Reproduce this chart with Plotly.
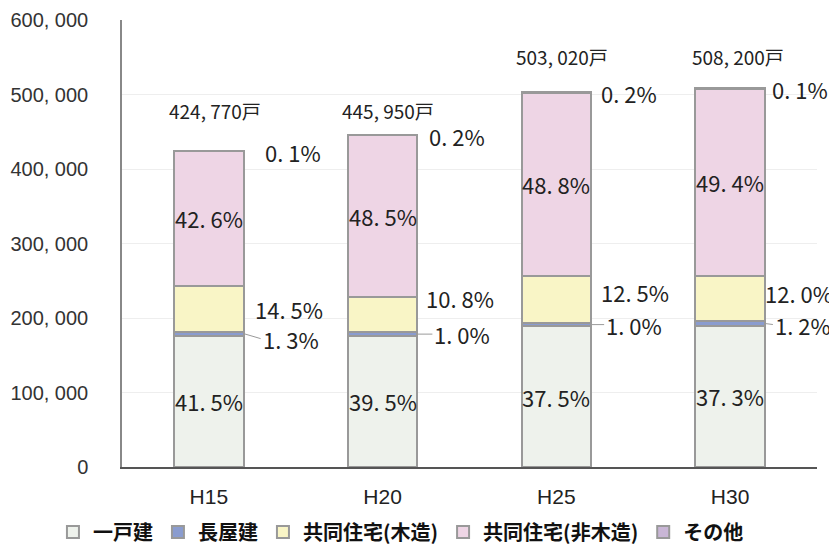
import plotly.graph_objects as go

# ---- data ----
categories = ["H15", "H20", "H25", "H30"]
totals = [424770, 445950, 503020, 508200]
total_labels = ["424, 770戸", "445, 950戸", "503, 020戸", "508, 200戸"]
series_names = ["一戸建", "長屋建", "共同住宅(木造)", "共同住宅(非木造)", "その他"]
pct_detached = [41.5, 39.5, 37.5, 37.3]
pct_row = [1.3, 1.0, 1.0, 1.2]
pct_wood = [14.5, 10.8, 12.5, 12.0]
pct_nonwood = [42.6, 48.5, 48.8, 49.4]
pct_other = [0.1, 0.2, 0.2, 0.1]
y_tick_values = [0, 100000, 200000, 300000, 400000, 500000, 600000]
y_tick_labels = ["0", "100, 000", "200, 000", "300, 000", "400, 000", "500, 000", "600, 000"]

# ---- styles ----
colors = ["#eef2ec", "#8a9ccf", "#f9f5c6", "#eed5e5", "#c9b6d6"]
BAR_W = 0.40
LBL_FONT = dict(family="Noto Sans CJK JP", size=22, color="#222222")

pcts = [pct_detached, pct_row, pct_wood, pct_nonwood, pct_other]
xs = list(range(len(categories)))

fig = go.Figure()
for name, p, c in zip(series_names, pcts, colors):
    vals = [t * v / 100.0 for t, v in zip(totals, p)]
    fig.add_trace(go.Bar(
        x=xs, y=vals, name=name, width=BAR_W,
        marker=dict(color=c, line=dict(color="#999999", width=2)),
        hoverinfo="skip",
    ))

def fmt(v):
    s = f"{v:.1f}%"
    return s.replace(".", ". ")

ann = []
cum = []
for i in xs:
    acc = 0
    row = []
    for p in pcts:
        v = totals[i] * p[i] / 100.0
        row.append((acc, acc + v))
        acc += v
    cum.append(row)

# layout offsets (pixels)
total_dx = [6, 5, 6, 8]
total_dy = [40, 24, 36, 32]
other_dx = [19, 10, 8, 5]
wood_dx = [9, 7, 8, -2]
wood_dy = [0, 17, 7, 6]
row_dx = [17, 15, 13, 8]
row_dy = [-5, 0, 0, -1]

for i in xs:
    edge = i + BAR_W / 2
    ann.append(dict(x=i, y=totals[i], text=total_labels[i], showarrow=False,
                    xanchor="center", yanchor="middle", xshift=total_dx[i], yshift=total_dy[i],
                    font=dict(family="Noto Sans CJK JP", size=19, color="#222222")))
    for k in (0, 3):
        lo, hi = cum[i][k]
        ann.append(dict(x=i, y=(lo + hi) / 2, text=fmt(pcts[k][i]), showarrow=False,
                        xanchor="center", yanchor="middle", font=LBL_FONT))
    ann.append(dict(x=edge, y=totals[i], text=fmt(pct_other[i]), showarrow=False,
                    xanchor="left", yanchor="middle", xshift=other_dx[i], yshift=-1, font=LBL_FONT))
    lo, hi = cum[i][2]
    ann.append(dict(x=edge, y=(lo + hi) / 2, text=fmt(pct_wood[i]), showarrow=False,
                    xanchor="left", yanchor="middle", xshift=wood_dx[i], yshift=wood_dy[i], font=LBL_FONT))
    lo, hi = cum[i][1]
    ann.append(dict(x=edge, y=(lo + hi) / 2, text=fmt(pct_row[i]), showarrow=True,
                    arrowhead=0, arrowwidth=1, arrowcolor="#9a9a9a", standoff=0,
                    axref="pixel", ayref="pixel", ax=row_dx[i], ay=-row_dy[i],
                    xanchor="left", yanchor="middle", font=LBL_FONT))

fig.update_layout(
    width=829, height=537,
    margin=dict(l=114, r=20, t=12, b=78, autoexpand=False),
    paper_bgcolor="white", plot_bgcolor="white",
    barmode="stack",
    bargap=0,
    annotations=ann,
    showlegend=True,
    legend=dict(orientation="h", xref="container", yref="container",
                x=0.474, xanchor="center", y=0.024, yanchor="middle",
                font=dict(family="Noto Sans CJK JP", size=20, color="#111111", weight="bold"),
                itemwidth=30, traceorder="normal", bgcolor="rgba(0,0,0,0)"),
    xaxis=dict(range=[-0.5, 3.5], tickmode="array", tickvals=xs, ticktext=categories,
               showgrid=False, zeroline=False, showline=True, linecolor="#555555", linewidth=1.5,
               ticks="", ticklabelstandoff=10, automargin=False,
               tickfont=dict(family="Liberation Sans", size=21, color="#222222")),
    yaxis=dict(range=[0, 600000], tickmode="array", tickvals=y_tick_values, ticktext=y_tick_labels,
               showgrid=True, gridcolor="#eeeeee", gridwidth=1, zeroline=False, automargin=False,
               showline=True, linecolor="#888888", linewidth=1.5, ticks="", ticklabelstandoff=28,
               tickfont=dict(family="Liberation Sans", size=20, color="#333333")),
)

fig.write_html("out.html")
